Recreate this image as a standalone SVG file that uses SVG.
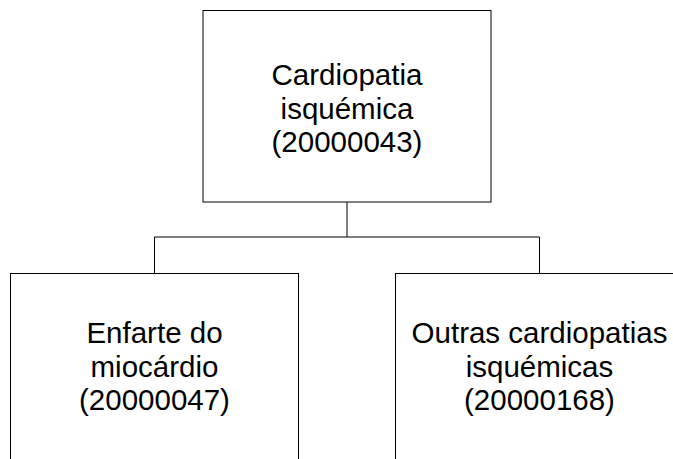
<svg xmlns="http://www.w3.org/2000/svg" width="673" height="459" viewBox="0 0 673 459">
<style>
.box{fill:#fff;stroke:#000;stroke-width:1}
.conn{fill:none;stroke:#000;stroke-width:1}
text{font-family:"Liberation Sans",Arial,sans-serif;font-size:29.5px;fill:#000;text-anchor:middle}
</style>
<rect width="673" height="459" fill="#fff"/>
<g id="connectors">
<path class="conn" d="M347,202V237M154.5,237H539.5M154.5,237V273.5M539.5,237V273.5"/>
</g>
<g id="node-20000043">
<rect class="box" x="203" y="10.5" width="288" height="191.5"/>
<text x="347" y="85">Cardiopatia</text>
<text x="347" y="119">isquémica</text>
<text x="347" y="152">(20000043)</text>
</g>
<g id="node-20000047">
<rect class="box" x="10.5" y="273.5" width="288" height="200"/>
<text x="154.5" y="343">Enfarte do</text>
<text x="154.5" y="377">miocárdio</text>
<text x="154.5" y="410">(20000047)</text>
</g>
<g id="node-20000168">
<rect class="box" x="395.5" y="273.5" width="288" height="200"/>
<text x="539.5" y="343">Outras cardiopatias</text>
<text x="539.5" y="377">isquémicas</text>
<text x="539.5" y="410">(20000168)</text>
</g>
</svg>
